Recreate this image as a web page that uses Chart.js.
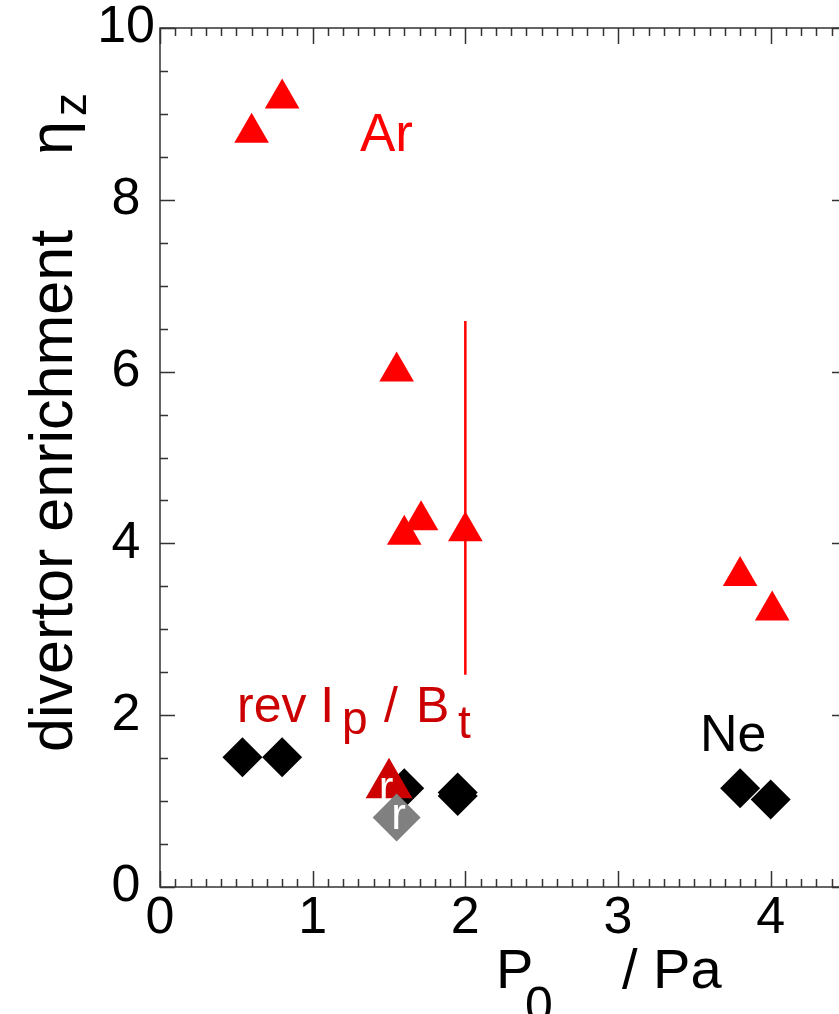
<!DOCTYPE html>
<html>
<head>
<meta charset="utf-8">
<script src="https://cdn.jsdelivr.net/npm/chart.js@4.4.1/dist/chart.umd.min.js"></script>
<style>
    html, body { margin: 0; padding: 0; background: #fff; overflow: hidden; }
    #wrap { width: 839px; height: 1014px; overflow: hidden; }
</style>
</head>
<body>
<div id="wrap"><canvas id="myChart" width="874" height="1014"></canvas></div>
<script>
// Ar - red triangles
const arX = [0.60, 0.80, 1.55, 1.60, 1.71, 2.00, 3.80, 4.01];
const arY = [8.78, 9.18, 6.00, 4.10, 4.27, 4.14, 3.62, 3.22];
// error bar on the Ar point at 2 Pa
const errX = [2.00];
const errLow = [2.47];
const errHigh = [6.59];
// Ne - black diamonds
const neX = [0.54, 0.80, 1.60, 1.95, 1.95, 3.80, 4.00];
const neY = [1.51, 1.51, 1.15, 1.10, 1.06, 1.15, 1.02];
// reversed Ip / Bt shots ("r")
const revArX = [1.50];
const revArY = [1.19];
const revNeX = [1.55];
const revNeY = [0.81];

const xTicks = [0, 1, 2, 3, 4];
const yTicks = [0, 2, 4, 6, 8, 10];

const FONT = "'Liberation Sans', Arial, sans-serif";
const toPts = (xs, ys) => xs.map((x, i) => ({ x: x, y: ys[i] }));

function txt(ctx, s, x, y, size, color) {
    ctx.font = size + "px " + FONT;
    ctx.fillStyle = color;
    ctx.fillText(s, x, y);
}

// frame + inward ticks on all four sides
const framePlugin = {
    id: 'frame',
    afterDatasetsDraw(chart) {
        const { ctx, chartArea: a, scales } = chart;
        const xs = scales.x, ys = scales.y;
        ctx.save();
        ctx.strokeStyle = '#333';
        ctx.lineWidth = 1.5;
        ctx.strokeRect(a.left, a.top, a.right - a.left, a.bottom - a.top);
        ctx.beginPath();
        for (let i = 0; i <= 45; i++) {
            const px = Math.round(xs.getPixelForValue(i / 10)) + 0.5;
            const len = i % 10 === 0 ? 16 : 8;
            ctx.moveTo(px, a.bottom); ctx.lineTo(px, a.bottom - len);
            ctx.moveTo(px, a.top); ctx.lineTo(px, a.top + len);
        }
        for (let i = 0; i <= 20; i++) {
            const py = Math.round(ys.getPixelForValue(i / 2)) + 0.5;
            const len = i % 4 === 0 ? 15 : 8;
            ctx.moveTo(a.left, py); ctx.lineTo(a.left + len, py);
            ctx.moveTo(a.right, py); ctx.lineTo(a.right - len, py);
        }
        ctx.stroke();
        ctx.restore();
    }
};

// error bar drawn under the markers
const errorBarPlugin = {
    id: 'errbar',
    beforeDatasetsDraw(chart) {
        const { ctx, scales } = chart;
        ctx.save();
        ctx.strokeStyle = '#ff0000';
        ctx.lineWidth = 2.5;
        errX.forEach((x, i) => {
            const px = scales.x.getPixelForValue(x);
            ctx.beginPath();
            ctx.moveTo(px, scales.y.getPixelForValue(errLow[i]));
            ctx.lineTo(px, scales.y.getPixelForValue(errHigh[i]));
            ctx.stroke();
        });
        ctx.restore();
    }
};

// texts: labels, "r" marks, axis titles with subscripts
const textPlugin = {
    id: 'texts',
    afterDraw(chart) {
        const ctx = chart.ctx;
        ctx.save();
        ctx.textBaseline = 'alphabetic';

        // white "r" inside the reversed-field markers
        ctx.textAlign = 'center';
        const pt = chart.getDatasetMeta(2).data[0];
        const pd = chart.getDatasetMeta(3).data[0];
        txt(ctx, 'r', pt.x - 3, pt.y + 17, 44, '#fff');
        txt(ctx, 'r', pd.x + 2, pd.y + 12, 44, '#fff');
        ctx.textAlign = 'left';

        txt(ctx, 'Ar', 360, 151, 53, '#ff0000');
        txt(ctx, 'Ne', 700, 751, 52, '#000');

        const dr = '#cc0000';
        txt(ctx, 'rev I', 237, 722, 50, dr);
        txt(ctx, 'p', 342, 734, 46, dr);
        txt(ctx, '/', 384, 722, 50, dr);
        txt(ctx, 'B', 416, 722, 50, dr);
        txt(ctx, 't', 458, 738, 46, dr);

        // x title
        txt(ctx, 'P', 496, 988, 56, '#000');
        txt(ctx, '0', 525, 1022, 50, '#000');
        txt(ctx, '/ Pa', 622, 988, 56, '#000');

        // y title
        ctx.translate(72, 752);
        ctx.rotate(-Math.PI / 2);
        txt(ctx, 'divertor enrichment', 0, 0, 61, '#000');
        txt(ctx, '\u03b7', 597, 0, 61, '#000');
        txt(ctx, 'z', 636, 14, 46, '#000');
        ctx.restore();
    }
};

new Chart(document.getElementById('myChart'), {
    type: 'scatter',
    data: {
        datasets: [
            {
                label: 'Ne',
                data: toPts(neX, neY),
                pointStyle: 'rectRot',
                pointRadius: 20,
                backgroundColor: '#000',
                borderColor: '#000',
                borderWidth: 0,
                order: 4
            },
            {
                label: 'Ar',
                data: toPts(arX, arY),
                pointStyle: 'triangle',
                pointRadius: 20,
                backgroundColor: '#ff0000',
                borderColor: '#ff0000',
                borderWidth: 0,
                order: 3
            },
            {
                label: 'Ar rev',
                data: toPts(revArX, revArY),
                pointStyle: 'triangle',
                pointRadius: 27,
                backgroundColor: '#cc0000',
                borderColor: '#cc0000',
                borderWidth: 0,
                order: 2
            },
            {
                label: 'Ne rev',
                data: toPts(revNeX, revNeY),
                pointStyle: 'rectRot',
                pointRadius: 24,
                backgroundColor: '#808080',
                borderColor: '#808080',
                borderWidth: 0,
                order: 1
            }
        ]
    },
    options: {
        responsive: false,
        animation: false,
        layout: { padding: { top: 28, right: 13, left: 0, bottom: 0 } },
        plugins: {
            legend: { display: false },
            tooltip: { enabled: false }
        },
        scales: {
            x: {
                type: 'linear',
                min: 0,
                max: 4.5,
                grid: { display: false, drawTicks: false },
                border: { display: false },
                afterBuildTicks: (s) => { s.ticks = xTicks.map(v => ({ value: v })); },
                afterFit: (s) => { s.height = 127; s.paddingLeft = 0; s.paddingRight = 0; },
                ticks: { padding: 0, color: '#000', font: { family: FONT, size: 52 } }
            },
            y: {
                type: 'linear',
                min: 0,
                max: 10,
                grid: { display: false, drawTicks: false },
                border: { display: false },
                afterBuildTicks: (s) => { s.ticks = yTicks.map(v => ({ value: v })); },
                afterFit: (s) => { s.width = 160; s.paddingTop = 0; s.paddingBottom = 0; },
                ticks: { padding: 5, crossAlign: 'center', color: '#000', font: { family: FONT, size: 52 } }
            }
        }
    },
    plugins: [errorBarPlugin, framePlugin, textPlugin]
});
</script>
</body>
</html>
